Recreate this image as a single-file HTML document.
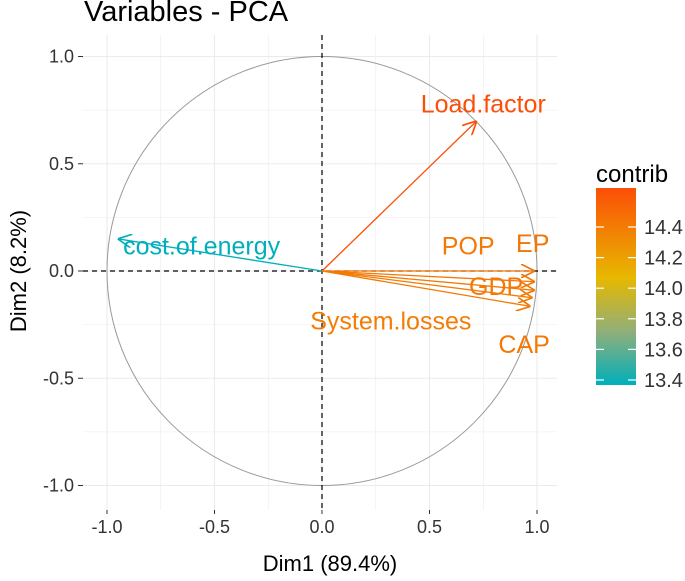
<!DOCTYPE html>
<html><head><meta charset="utf-8"><style>
body{margin:0;background:#fff}
svg text{font-family:"Liberation Sans",Arial,sans-serif}
</style></head><body>
<svg id="c" width="685" height="576" xmlns="http://www.w3.org/2000/svg">
<defs>
<linearGradient id="g" x1="0" y1="1" x2="0" y2="0">
<stop offset="0" stop-color="#00AFBB"/><stop offset="0.27" stop-color="#8FAF7A"/><stop offset="0.545" stop-color="#E7B800"/><stop offset="1" stop-color="#FC4E07"/>
</linearGradient>
<marker id="ah" viewBox="0 0 10 10" refX="10" refY="5" markerWidth="14" markerHeight="14" markerUnits="userSpaceOnUse" orient="auto"><path d="M0,0 L10,5 L0,10" fill="none" stroke="context-stroke" stroke-width="1.2"/></marker>
</defs>
<text x="84" y="21" font-size="29" fill="#000">Variables - PCA</text>
<g id="grid"></g>
<g id="marks"></g>
<text x="330" y="571" font-size="22" text-anchor="middle" fill="#000">Dim1 (89.4%)</text>
<text transform="translate(26,271) rotate(-90)" font-size="22" text-anchor="middle" fill="#000">Dim2 (8.2%)</text>
<g>
<text x="596" y="182" font-size="24" fill="#000">contrib</text>
<rect x="596" y="188" width="40" height="197" fill="url(#g)"/>
<g id="leg"></g>
</g>
</svg>
<script>
const names=["cost.of.energy","Load.factor","EP","POP","GDP","System.losses","CAP"];
const dim1=[-0.95,0.72,0.99,0.99,0.99,0.98,0.97];
const dim2=[0.15,0.70,0.0,-0.05,-0.09,-0.125,-0.165];
const contrib=[13.4,14.5,14.32,14.3,14.3,14.28,14.3];
const labelPos=[[-0.56,0.12],[0.75,0.78],[0.98,0.13],[0.68,0.12],[0.81,-0.07],[0.32,-0.23],[0.94,-0.34]];
const ticks=[-1,-0.5,0,0.5,1];
const tickLabels=["-1.0","-0.5","0.0","0.5","1.0"];
const legTicks=[13.4,13.6,13.8,14.0,14.2,14.4];
const NS="http://www.w3.org/2000/svg";
const X=v=>322+v*215, Y=v=>271-v*214.5;
const L=v=>380-(v-13.4)*153;
function mk(t,a,p){const e=document.createElementNS(NS,t);for(const k in a)e.setAttribute(k,a[k]);(p||document.getElementById('c')).appendChild(e);return e;}
function lerp(a,b,t){return a.map((x,i)=>Math.round(x+(b[i]-x)*t));}
function col(v){const lo=13.4,mid=14.0,hi=14.5;const A=[0,175,187],B=[231,184,0],C=[252,78,7];
 let c=v<=mid?lerp(A,B,Math.max(0,(v-lo)/(mid-lo))):lerp(B,C,Math.min(1,(v-mid)/(hi-mid)));return `rgb(${c})`;}
const grid=document.getElementById('grid'),marks=document.getElementById('marks'),leg=document.getElementById('leg');
const px0=83,px1=557,py0=35,py1=510;
for(const v of [-1,-0.75,-0.5,-0.25,0,0.25,0.5,0.75,1]){
 const major=ticks.includes(v);
 const a=mk('line',{x1:X(v),x2:X(v),y1:py0,y2:py1,stroke:'#ebebeb','stroke-width':major?1.1:0.6},grid);
 
 const b=mk('line',{x1:px0,x2:px1,y1:Y(v),y2:Y(v),stroke:'#ebebeb','stroke-width':major?1.1:0.6},grid);
 
}
ticks.forEach((v,i)=>{
 const t=mk('text',{x:X(v),y:533,'font-size':18,fill:'#333','text-anchor':'middle'},grid);t.textContent=tickLabels[i];
 
 mk('line',{x1:X(v),x2:X(v),y1:py1,y2:py1+4,stroke:'#333'},grid);
 const u=mk('text',{x:74,y:Y(v)+6,'font-size':18,fill:'#333','text-anchor':'end'},grid);u.textContent=tickLabels[i];
 
 mk('line',{x1:px0-5,x2:px0,y1:Y(v),y2:Y(v),stroke:'#333'},grid);
});
const circ=mk('ellipse',{cx:X(0),cy:Y(0),rx:215,ry:214.5,fill:'none',stroke:'#999','stroke-width':1},marks);

const hz=mk('line',{x1:px0,x2:px1,y1:Y(0),y2:Y(0),stroke:'#000','stroke-dasharray':'5,4','stroke-width':1.2},marks);

const vz=mk('line',{x1:X(0),x2:X(0),y1:py0,y2:py1,stroke:'#000','stroke-dasharray':'5,4','stroke-width':1.2},marks);

names.forEach((n,i)=>{
 const c=col(contrib[i]);
 const a=mk('line',{x1:X(0),y1:Y(0),x2:X(dim1[i]),y2:Y(dim2[i]),stroke:c,'stroke-width':1.3,'marker-end':'url(#ah)'},marks);
 
 const t=mk('text',{x:X(labelPos[i][0]),y:Y(labelPos[i][1])+9,'font-size':25,fill:c,'text-anchor':'middle'},marks);t.textContent=n;
 
});
legTicks.forEach(v=>{
 mk('line',{x1:596,x2:604,y1:L(v),y2:L(v),stroke:'#fff','stroke-width':1.2},leg);
 mk('line',{x1:628,x2:636,y1:L(v),y2:L(v),stroke:'#fff','stroke-width':1.2},leg);
 const t=mk('text',{x:644,y:L(v)+7,'font-size':20,fill:'#333'},leg);t.textContent=v.toFixed(1);
 
});
</script>
</body></html>
